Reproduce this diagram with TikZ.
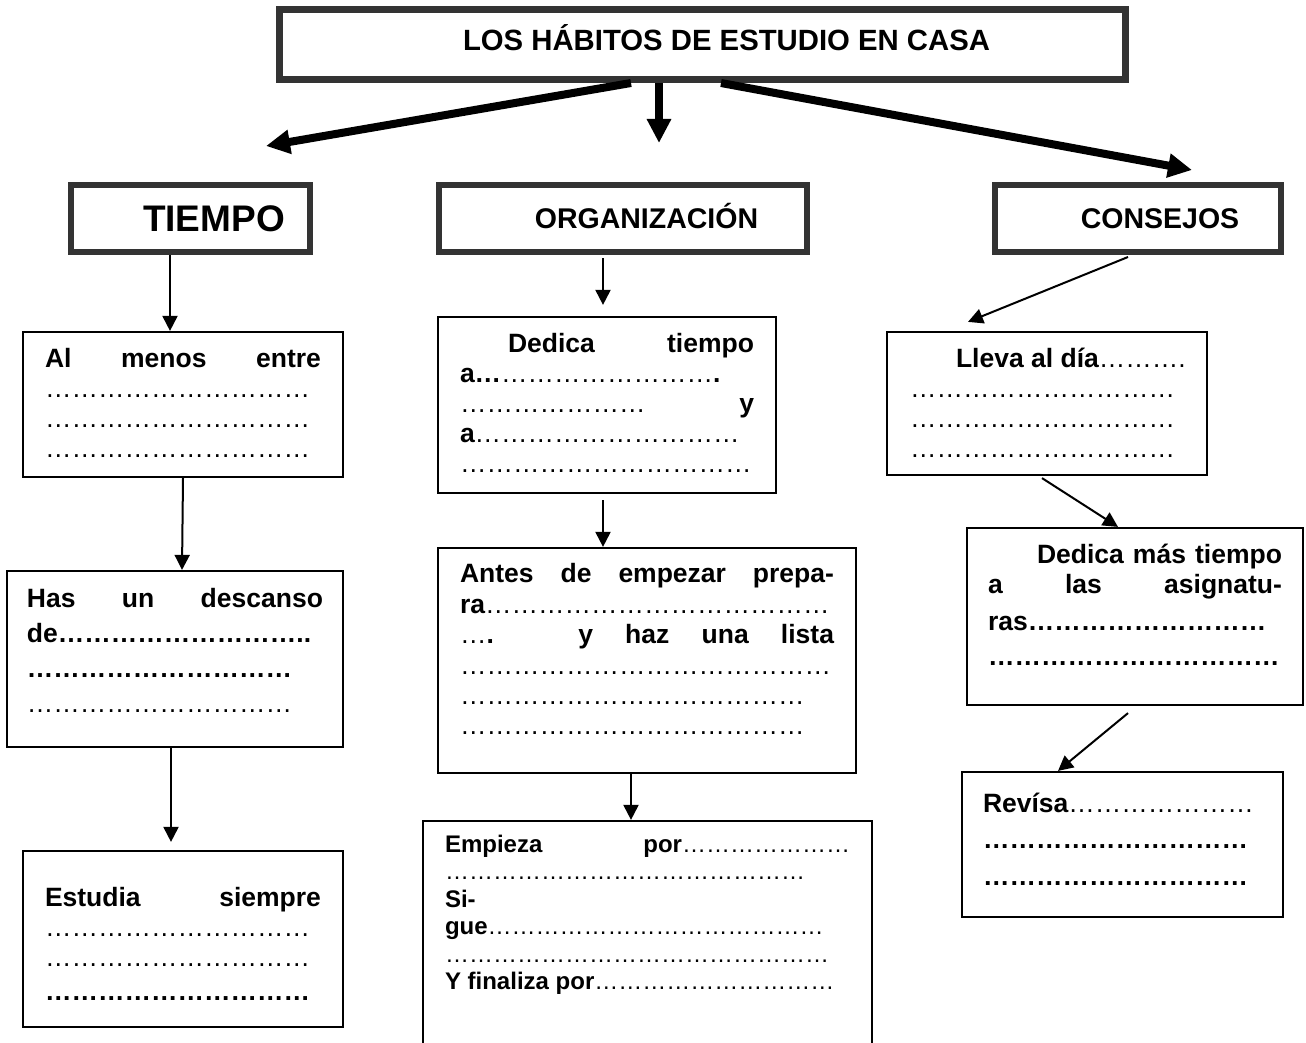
\documentclass[tikz,border=0pt]{standalone}
\usepackage{fontspec}
\setmainfont{Liberation Sans}
\usepackage{tikz}
\usetikzlibrary{arrows.meta, positioning}
\definecolor{borde}{RGB}{51,51,51}
\tikzstyle{titulo} = [rectangle, draw=borde, line width=7pt, inner sep=0pt, text centered, font=\fontsize{29.3}{35}\selectfont\bfseries, text height=21pt, text depth=8.6pt]
\tikzstyle{rama} = [rectangle, draw=borde, line width=6pt, inner sep=0pt, minimum height=67pt, text centered, font=\fontsize{28.5}{34}\selectfont\bfseries, text height=20.4pt, text depth=0pt]
\tikzstyle{caja} = [rectangle, draw=black, line width=2.2pt, inner ysep=0pt, inner xsep=22pt, font=\fontsize{26.5}{30}\selectfont\bfseries]
\tikzstyle{flecha} = [line width=2pt, -{Triangle[length=15pt, width=15pt]}]
\tikzstyle{flechagruesa} = [line width=8pt, -{Triangle[length=24pt, width=23pt]}]
\newcommand{\puntos}[1]{{\mdseries\foreach \k in {1,...,#1}{…}}}
\newcommand{\puntosb}[1]{\foreach \k in {1,...,#1}{…}}
\newcommand{\just}[1]{\makebox[\linewidth][s]{#1}}
\newcommand{\linea}[1]{\makebox[\linewidth][l]{#1}}
\newcommand{\bloque}[4]{\parbox[c][#2][t]{#1}{\vspace*{#3}\strut#4}}

\begin{document}
\begin{tikzpicture}[x=1pt, y=-1pt]
		\useasboundingbox (0,0) rectangle (1306,1043);
		\clip (0,0) rectangle (1306,1043);
		\fill[white] (0,0) rectangle (1306,1043);
		
		% Nodos
		\node (titulo) [titulo, minimum width=846pt, minimum height=70pt] at (702.5,44.5) {\hspace*{48pt}LOS HÁBITOS DE ESTUDIO EN CASA};
		\node (tiempo) [rama, minimum width=239pt, font=\fontsize{37}{44}\selectfont\bfseries, text height=26.5pt] at (190.5,218.5) {\hspace*{47pt}TIEMPO};
		\node (organizacion) [rama, minimum width=368pt] at (623,218.5) {\hspace*{47pt}ORGANIZACIÓN};
		\node (consejos) [rama, minimum width=286pt] at (1138,218.5) {\hspace*{44pt}CONSEJOS};
		
		\node (almenos) [caja] at (183,404.5) {\bloque{276pt}{145pt}{14pt}{\just{Al menos entre}\\ \puntos{10}\\ \puntos{10}\\ \puntos{10}}};
		\node (descanso) [caja, inner xsep=20pt, font=\fontsize{26.5}{35.3}\selectfont\bfseries] at (175,659) {\bloque{296pt}{176pt}{11.3pt}{\just{Has un descanso}\\ \linea{de\puntosb{9}..}\\ \puntosb{10}\\ \puntos{10}}};
		\node (estudia) [caja] at (183,939) {\bloque{276pt}{176pt}{34pt}{\just{Estudia siempre}\\ \puntos{10}\\ \puntos{10}\\[4pt] \puntosb{10}}};
		
		\node (dedica) [caja] at (607,405) {\bloque{294pt}{176pt}{14pt}{\just{\hspace*{48pt}Dedica tiempo}\\ \linea{a\puntosb{1}\puntos{8}.}\\ \linea{\puntos{7}\hfill y}\\ \linea{a\puntos{10}}\\ \puntos{11}}};
		\node (antes) [caja, font=\fontsize{26.5}{30.4}\selectfont\bfseries] at (647,660.5) {\bloque{374pt}{225pt}{13.7pt}{\just{Antes de empezar prepa-}\\ \linea{ra\puntos{13}}\\ \just{\puntos{1}. y haz una lista}\\ \puntos{14}\\ \puntos{13}\\ \puntos{13}}};
		\node (empieza) [caja, font=\fontsize{24}{27.5}\selectfont\bfseries] at (647.5,940.5) {\bloque{405pt}{239pt}{11.75pt}{\just{Empieza por\puntos{7}}\\ \puntos{15}\\ Si-\\ \linea{gue\puntos{14}}\\ \puntos{16}\\ \linea{Y finaliza por\puntos{10}}}};
		
		\node (lleva) [caja, inner xsep=23pt] at (1047,403.5) {\bloque{274pt}{143pt}{14pt}{\linea{\hspace*{46pt}Lleva al día\puntos{3}{\mdseries.}}\\ \puntos{10}\\ \puntos{10}\\ \puntos{10}}};
		\node (masTiempo) [caja, inner xsep=21pt] at (1135,616.5) {\bloque{294pt}{177pt}{14pt}{\just{\hspace*{49pt}Dedica más tiempo}\\ \just{a las asignatu-}\\[7pt] \linea{ras\puntosb{9}}\\[5pt] \puntosb{11}}};
		\node (revisa) [caja, inner xsep=21pt, font=\fontsize{26.5}{36.5}\selectfont\bfseries] at (1122.5,844.5) {\bloque{279pt}{145pt}{14.45pt}{\linea{Revísa\puntos{7}}\\ \puntosb{10}\\ \puntosb{10}}};
		
		% Flechas
		\draw [flechagruesa] ([xshift=-71.5pt]titulo.south) -- ([xshift=75.5pt,yshift=36pt]tiempo.north);
		\draw [flechagruesa] ([xshift=-43.5pt]titulo.south) -- ([xshift=36pt,yshift=39pt]organizacion.north);
		\draw [flechagruesa] ([xshift=18.5pt]titulo.south) -- ([xshift=54pt,yshift=12pt]consejos.north);
		
		\draw [flecha] ([xshift=-20.5pt]tiempo.south) -- ([xshift=-13pt]almenos.north);
		\draw [flecha] (almenos.south) -- ([xshift=7pt]descanso.north);
		\draw [flecha, shorten >=8pt] ([xshift=-4pt]descanso.south) -- ([xshift=-12pt]estudia.north);
		
		\draw [flecha, shorten <=3pt, shorten >=11pt] ([xshift=-20pt]organizacion.south) -- ([xshift=-4pt]dedica.north);
		\draw [flecha, shorten <=6pt] ([xshift=-4pt]dedica.south) -- ([xshift=-44pt]antes.north);
		\draw [flecha] ([xshift=-16pt]antes.south) -- ([xshift=-16.5pt]empieza.north);
		
		\draw [flecha] ([xshift=-10pt,yshift=-2pt]consejos.south) -- ([xshift=-79pt,yshift=9pt]lleva.north);
		\draw [flecha] ([xshift=-5pt,yshift=-2pt]lleva.south) -- ([xshift=-17pt]masTiempo.north);
		\draw [flecha] ([xshift=-7pt,yshift=-7pt]masTiempo.south) -- ([xshift=-64.5pt]revisa.north);
		
	\end{tikzpicture}
\end{document}
